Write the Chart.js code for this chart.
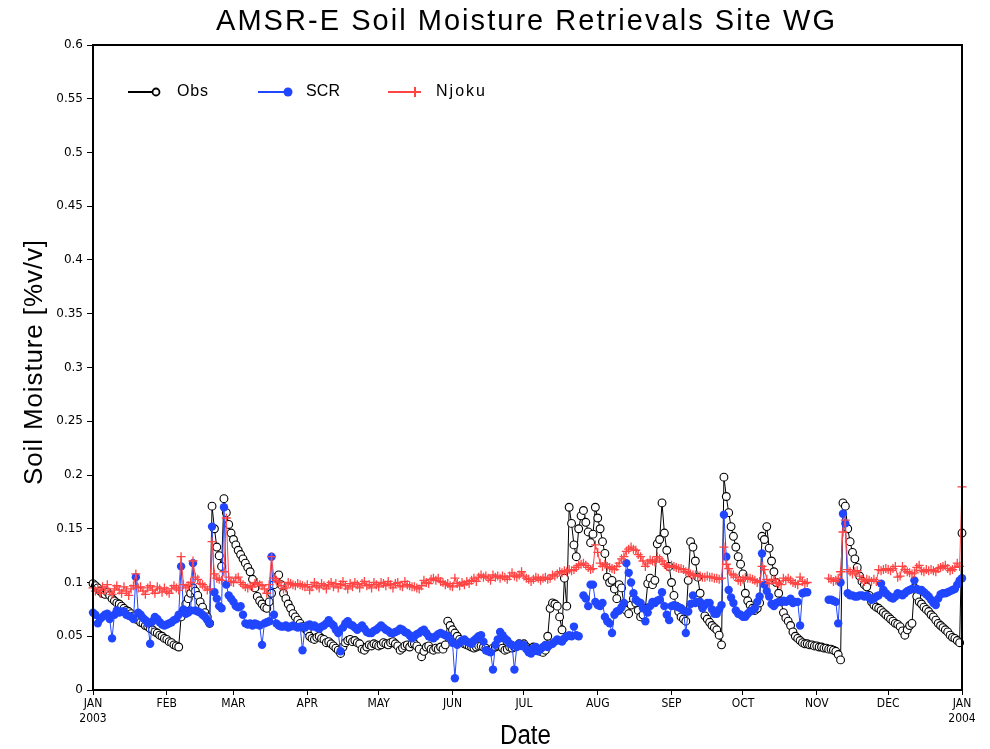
<!DOCTYPE html>
<html>
<head>
<meta charset="utf-8">
<script src="https://cdn.jsdelivr.net/npm/chart.js@4.4.1/dist/chart.umd.min.js"></script>
<style>body{margin:0;background:#fff;}</style>
</head>
<body>
<canvas id="myCanvas" width="990" height="749"></canvas>
<script>
// day of year (0 = 1 Jan 2003) where each month starts
var monthDays = [0, 31, 59, 90, 120, 151, 181, 212, 243, 273, 304, 334, 365];
var monthLabels = [['JAN', '2003'], 'FEB', 'MAR', 'APR', 'MAY', 'JUN', 'JUL', 'AUG', 'SEP', 'OCT', 'NOV', 'DEC', ['JAN', '2004']];
var yTicks = [0, 0.05, 0.1, 0.15, 0.2, 0.25, 0.3, 0.35, 0.4, 0.45, 0.5, 0.55, 0.6];

// daily values, 1 Jan 2003 .. 1 Jan 2004 (366 days)
var obs = [
  // jan
  0.099,0.097,0.095,0.092,0.090,0.089,0.091,0.088,0.085,0.083,
  0.081,0.080,0.078,0.076,0.074,0.073,0.071,0.069,0.066,0.065,
  0.063,0.062,0.060,0.059,0.057,0.056,0.054,0.053,0.051,0.050,0.048,
  // feb
  0.047,0.045,0.044,0.042,0.041,0.040,0.068,0.074,0.080,0.085,
  0.090,0.095,0.092,0.088,0.082,0.077,0.072,0.068,0.062,0.171,
  0.150,0.133,0.125,0.115,0.178,0.165,0.154,0.146,
  // mar
  0.140,0.135,0.130,0.126,0.122,0.118,0.114,0.110,0.103,0.095,
  0.087,0.083,0.080,0.077,0.076,0.082,0.090,0.098,0.105,0.107,
  0.098,0.090,0.085,0.080,0.076,0.071,0.068,0.065,0.062,0.059,0.057,
  // apr
  0.055,0.050,0.048,0.047,0.049,0.050,0.048,0.047,0.044,0.045,
  0.043,0.041,0.039,0.037,0.034,0.040,0.044,0.046,0.047,0.045,
  0.046,0.044,0.043,0.038,0.037,0.040,0.042,0.041,0.043,0.042,
  // may
  0.041,0.042,0.044,0.043,0.042,0.044,0.045,0.043,0.041,0.037,
  0.039,0.041,0.042,0.040,0.043,0.043,0.041,0.038,0.031,0.036,
  0.040,0.041,0.038,0.037,0.039,0.038,0.040,0.038,0.042,0.064,0.060,
  // jun
  0.056,0.053,0.050,0.047,0.045,0.043,0.042,0.041,0.040,0.039,
  0.040,0.041,0.041,0.040,0.039,0.037,0.036,0.039,0.040,0.041,
  0.042,0.039,0.037,0.038,0.040,0.039,0.040,0.041,0.043,0.042,
  // jul
  0.043,0.040,0.038,0.036,0.040,0.037,0.038,0.036,0.035,0.037,
  0.050,0.076,0.081,0.080,0.078,0.068,0.056,0.104,0.078,0.170,
  0.155,0.135,0.124,0.150,0.162,0.167,0.156,0.147,0.137,0.145,0.170,
  // aug
  0.160,0.150,0.138,0.127,0.105,0.100,0.102,0.094,0.085,0.098,
  0.095,0.080,0.074,0.071,0.079,0.085,0.081,0.074,0.068,0.070,
  0.076,0.099,0.104,0.098,0.102,0.136,0.140,0.174,0.146,0.130,0.115,
  // sep
  0.100,0.088,0.078,0.073,0.068,0.066,0.064,0.102,0.138,0.133,
  0.120,0.105,0.090,0.078,0.069,0.066,0.063,0.060,0.058,0.056,
  0.051,0.042,0.198,0.180,0.165,0.152,0.143,0.133,0.124,0.117,
  // oct
  0.108,0.090,0.083,0.079,0.076,0.074,0.076,0.081,0.143,0.140,
  0.152,0.132,0.120,0.110,0.100,0.090,0.082,0.072,0.067,0.064,
  0.060,0.054,0.050,0.048,0.046,0.044,0.043,0.043,0.042,0.042,0.041,
  // nov
  0.041,0.040,0.040,0.039,0.039,0.038,0.038,0.037,0.036,0.033,
  0.028,0.174,0.171,0.150,0.138,0.128,0.122,0.114,0.106,0.101,
  0.098,0.096,0.088,0.082,0.079,0.077,0.076,0.074,0.072,0.070,
  // dec
  0.068,0.066,0.064,0.062,0.061,0.059,0.055,0.051,0.056,0.060,
  0.062,0.095,0.087,0.082,0.080,0.077,0.075,0.073,0.070,0.068,
  0.065,0.062,0.060,0.058,0.056,0.054,0.051,0.049,0.048,0.046,0.044,
  // 1 jan 2004
  0.146
];

var scr = [
  // jan
  0.072,0.070,0.062,0.066,0.068,0.070,0.071,0.066,0.048,0.070,
  0.074,0.072,0.073,0.073,0.070,0.069,0.068,0.066,0.105,0.072,
  0.070,0.067,0.065,0.062,0.043,0.064,0.068,0.066,0.063,0.061,0.060,
  // feb
  0.061,0.062,0.063,0.065,0.066,0.070,0.115,0.075,0.071,0.072,
  0.074,0.118,0.074,0.073,0.072,0.070,0.068,0.065,0.062,0.152,
  0.091,0.085,0.078,0.076,0.170,0.098,0.088,0.085,
  // mar
  0.082,0.078,0.077,0.078,0.070,0.062,0.061,0.062,0.060,0.062,
  0.061,0.060,0.042,0.062,0.063,0.064,0.124,0.070,0.062,0.060,
  0.059,0.059,0.060,0.058,0.059,0.060,0.059,0.058,0.059,0.037,0.058,
  // apr
  0.060,0.061,0.059,0.060,0.058,0.057,0.059,0.060,0.062,0.065,
  0.062,0.060,0.056,0.053,0.036,0.058,0.062,0.064,0.061,0.060,
  0.058,0.056,0.058,0.060,0.057,0.054,0.053,0.053,0.055,0.056,
  // may
  0.058,0.060,0.058,0.056,0.055,0.053,0.053,0.054,0.055,0.057,
  0.056,0.054,0.053,0.051,0.048,0.050,0.052,0.053,0.055,0.056,
  0.053,0.050,0.049,0.048,0.050,0.052,0.053,0.052,0.051,0.050,0.048,
  // jun
  0.044,0.011,0.042,0.044,0.046,0.047,0.045,0.044,0.043,0.046,
  0.048,0.050,0.051,0.045,0.037,0.036,0.035,0.019,0.042,0.047,
  0.054,0.051,0.048,0.046,0.043,0.042,0.019,0.040,0.043,0.041,
  // jul
  0.042,0.038,0.035,0.034,0.039,0.040,0.036,0.038,0.040,0.042,
  0.040,0.042,0.043,0.045,0.047,0.046,0.045,0.048,0.050,0.051,
  0.050,0.059,0.051,0.050,null,0.088,0.085,0.078,0.098,0.098,0.082,
  // aug
  0.079,0.078,0.081,0.068,0.064,0.062,0.053,0.070,0.073,0.074,
  0.077,0.081,0.118,0.109,0.100,0.090,0.084,0.082,0.081,0.076,
  0.064,0.072,0.078,0.082,0.081,0.083,0.084,0.091,0.078,0.070,0.065,
  // sep
  0.078,0.079,0.078,0.077,0.076,0.074,0.053,0.073,0.080,0.088,
  0.081,0.082,0.082,0.076,0.079,0.081,0.081,0.075,0.071,0.071,
  0.075,0.079,0.163,0.124,0.093,0.086,0.081,0.074,0.071,0.070,
  // oct
  0.068,0.068,0.071,0.073,0.074,0.076,0.082,0.087,0.127,0.098,
  0.092,0.087,0.080,0.078,0.081,0.082,0.082,0.083,0.082,0.083,
  0.085,0.081,0.082,0.082,0.060,0.090,0.091,0.091,null,null,null,
  // nov
  null,null,null,null,null,0.084,0.084,0.083,0.082,0.062,
  0.100,0.164,0.155,0.090,0.088,0.088,0.087,0.087,0.088,0.088,
  0.087,0.088,0.086,0.084,0.085,0.087,0.088,0.099,0.093,0.090,
  // dec
  0.088,0.086,0.085,0.087,0.090,0.089,0.088,0.090,0.092,0.093,
  0.094,0.102,0.094,0.093,0.093,0.091,0.089,0.087,0.084,0.081,
  0.079,0.085,0.089,0.090,0.090,0.091,0.092,0.093,0.094,0.098,0.102,
  // 1 jan 2004
  0.104
];

var njoku = [
  // jan
  0.095,0.092,0.094,0.090,0.096,0.093,0.098,0.091,0.089,0.094,
  0.097,0.093,0.090,0.096,0.092,0.088,0.094,0.097,0.108,0.095,
  0.096,0.092,0.089,0.095,0.097,0.093,0.090,0.096,0.094,0.091,0.095,
  // feb
  0.092,0.090,0.094,0.097,0.095,0.093,0.124,0.098,0.095,0.097,
  0.100,0.120,0.105,0.103,0.099,0.098,0.096,0.093,0.094,0.138,
  0.108,0.104,0.103,0.102,0.110,0.160,0.105,0.101,
  // mar
  0.100,0.104,0.105,0.100,0.098,0.096,0.095,0.097,0.096,0.099,
  0.100,0.098,0.097,0.094,0.090,0.098,0.124,0.104,0.102,0.100,
  0.097,0.094,0.095,0.100,0.099,0.098,0.097,0.099,0.098,0.097,0.096,
  // apr
  0.098,0.093,0.096,0.100,0.097,0.095,0.099,0.097,0.094,0.098,
  0.100,0.096,0.099,0.095,0.098,0.101,0.097,0.094,0.099,0.096,
  0.100,0.098,0.095,0.099,0.101,0.097,0.098,0.095,0.100,0.098,
  // may
  0.096,0.100,0.099,0.097,0.101,0.098,0.095,0.099,0.100,0.097,
  0.096,0.101,0.098,0.097,0.096,0.096,0.095,0.094,0.097,0.102,
  0.100,0.099,0.103,0.104,0.102,0.104,0.101,0.100,0.098,0.099,0.097,
  // jun
  0.096,0.104,0.099,0.097,0.100,0.098,0.101,0.099,0.102,0.104,
  0.101,0.105,0.107,0.105,0.106,0.104,0.102,0.107,0.105,0.106,
  0.104,0.106,0.105,0.103,0.106,0.109,0.106,0.105,0.107,0.110,
  // jul
  0.106,0.104,0.103,0.101,0.103,0.105,0.104,0.102,0.104,0.105,
  0.103,0.104,0.107,0.106,0.108,0.110,0.109,0.111,0.110,0.112,
  0.111,0.112,0.114,0.116,0.117,0.118,0.116,0.114,0.112,0.113,0.135,
  // aug
  0.128,0.118,0.115,0.117,0.115,0.114,0.113,0.112,0.115,0.118,
  0.122,0.124,0.129,0.131,0.133,0.131,0.130,0.126,0.124,0.120,
  0.115,0.118,0.121,0.120,0.119,0.124,0.122,0.120,0.117,0.115,0.114,
  // sep
  0.116,0.115,0.114,0.113,0.113,0.112,0.110,0.109,0.108,0.107,
  0.107,0.106,0.106,0.105,0.105,0.106,0.105,0.105,0.104,0.104,
  0.103,0.104,0.133,0.117,0.113,0.108,0.107,0.105,0.102,0.101,
  // oct
  0.103,0.105,0.104,0.104,0.103,0.102,0.100,0.101,0.115,0.112,
  0.103,0.099,0.102,0.103,0.100,0.099,0.098,0.104,0.102,0.104,
  0.102,0.100,0.099,0.098,0.105,0.101,0.099,0.100,null,null,null,
  // nov
  null,null,null,null,null,0.104,0.103,0.101,0.102,0.104,
  0.110,0.147,0.158,0.112,0.110,0.108,0.110,0.111,0.106,0.103,
  0.101,0.103,0.102,0.101,0.103,0.101,0.112,0.111,0.112,0.113,
  // dec
  0.112,0.111,0.113,0.115,0.105,0.106,0.115,0.112,0.110,0.109,
  0.108,0.109,0.114,0.116,0.111,0.110,0.112,0.111,0.112,0.111,
  0.110,0.113,0.114,0.115,0.116,0.113,0.111,0.112,0.114,0.118,0.115,
  // 1 jan 2004
  0.189
];

if (obs.length != 366 || scr.length != 366 || njoku.length != 366) {
    throw new Error('bad lengths ' + obs.length + ' ' + scr.length + ' ' + njoku.length);
}

function toPoints(arr){
    return arr.map(function(v, i){ return {x: i, y: v}; });
}

// draw text squeezed or spread to a given width
function fitText(ctx, text, x, y, w){
    ctx.letterSpacing = '0px';
    var m = ctx.measureText(text).width;
    if (m > w) {
        ctx.fillText(text, x, y, w);
    } else {
        ctx.letterSpacing = ((w - m) / (text.length - 1)) + 'px';
        ctx.fillText(text, x, y);
        ctx.letterSpacing = '0px';
    }
}

var BLUE = '#2146ff';
var RED = '#ff4444';
var TXT = '"Liberation Sans", Arial, sans-serif';

var decorations = {
    id: 'decorations',
    afterDraw: function(chart){
        var ctx = chart.ctx;
        var a = chart.chartArea;
        ctx.save();
        // frame
        ctx.strokeStyle = '#000';
        ctx.lineWidth = 2;
        ctx.strokeRect(a.left, a.top, a.right - a.left, a.bottom - a.top);

        ctx.fillStyle = '#000';
        ctx.textAlign = 'left';
        ctx.textBaseline = 'alphabetic';

        // title
        ctx.font = '29px ' + TXT;
        fitText(ctx, 'AMSR-E Soil Moisture Retrievals Site WG', 216, 30, 619);

        // x title
        ctx.font = '27px ' + TXT;
        fitText(ctx, 'Date', 500, 744, 51);

        // y title
        ctx.save();
        ctx.translate(42, 485);
        ctx.rotate(-Math.PI / 2);
        ctx.font = '26px ' + TXT;
        fitText(ctx, 'Soil Moisture [%v/v]', 0, 0, 245);
        ctx.restore();

        // legend
        var ly = 92;
        ctx.lineWidth = 2;
        ctx.font = '16px ' + TXT;
        ctx.textBaseline = 'middle';

        ctx.strokeStyle = '#000';
        ctx.beginPath(); ctx.moveTo(128, ly); ctx.lineTo(153, ly); ctx.stroke();
        ctx.fillStyle = '#fff';
        ctx.lineWidth = 1.8;
        ctx.beginPath(); ctx.arc(156, ly, 3.5, 0, Math.PI * 2); ctx.fill(); ctx.stroke();
        ctx.fillStyle = '#000';
        fitText(ctx, 'Obs', 177, ly, 31);

        ctx.lineWidth = 2;
        ctx.strokeStyle = BLUE;
        ctx.beginPath(); ctx.moveTo(258, ly); ctx.lineTo(286, ly); ctx.stroke();
        ctx.fillStyle = BLUE;
        ctx.beginPath(); ctx.arc(288, ly, 4.5, 0, Math.PI * 2); ctx.fill();
        ctx.fillStyle = '#000';
        fitText(ctx, 'SCR', 306, ly, 34);

        ctx.strokeStyle = RED;
        ctx.beginPath(); ctx.moveTo(388, ly); ctx.lineTo(421, ly); ctx.stroke();
        ctx.beginPath(); ctx.moveTo(415, ly - 5); ctx.lineTo(415, ly + 5); ctx.stroke();
        ctx.fillStyle = '#000';
        fitText(ctx, 'Njoku', 436, ly, 49);

        ctx.restore();
    }
};

var ctx = document.getElementById('myCanvas').getContext('2d');
var myChart = new Chart(ctx, {
    type: 'line',
    data: {
        datasets: [{
            label: 'Njoku',
            data: toPoints(njoku),
            borderColor: RED,
            borderWidth: 1,
            pointStyle: 'cross',
            pointRadius: 4.5,
            pointBorderColor: RED,
            pointBorderWidth: 1.3,
            order: 1
        }, {
            label: 'SCR',
            data: toPoints(scr),
            borderColor: BLUE,
            borderWidth: 1,
            pointStyle: 'circle',
            pointRadius: 4.2,
            pointBackgroundColor: BLUE,
            pointBorderColor: BLUE,
            pointBorderWidth: 0,
            order: 2
        }, {
            label: 'Obs',
            data: toPoints(obs),
            borderColor: '#000',
            borderWidth: 1,
            pointStyle: 'circle',
            pointRadius: 3.9,
            pointBackgroundColor: '#fff',
            pointBorderColor: '#000',
            pointBorderWidth: 1.1,
            order: 3
        }]
    },
    options: {
        responsive: false,
        animation: false,
        spanGaps: false,
        clip: 6,
        layout: {padding: {top: 45, right: 28, left: 0, bottom: 0}},
        plugins: {
            legend: {display: false},
            tooltip: {enabled: false}
        },
        scales: {
            x: {
                type: 'linear',
                min: 0,
                max: 365,
                afterFit: function(s){ s.height = 59; },
                afterBuildTicks: function(s){
                    s.ticks = monthDays.map(function(d){ return {value: d}; });
                },
                border: {display: false},
                grid: {drawOnChartArea: false, drawTicks: true, tickLength: 5, color: '#000'},
                ticks: {
                    autoSkip: false,
                    maxRotation: 0,
                    padding: 2,
                    color: '#000',
                    font: {family: '"Liberation Sans Narrow", "DejaVu Sans Condensed", sans-serif', size: 12, lineHeight: 1.2},
                    callback: function(v){
                        var i = monthDays.indexOf(v);
                        return i >= 0 ? monthLabels[i] : '';
                    }
                }
            },
            y: {
                min: 0,
                max: 0.6,
                afterFit: function(s){ s.width = 93; },
                afterBuildTicks: function(s){
                    s.ticks = yTicks.map(function(v){ return {value: v}; });
                },
                border: {display: false},
                grid: {drawOnChartArea: false, drawTicks: true, tickLength: 6, color: '#000'},
                ticks: {
                    padding: 4,
                    color: '#000',
                    font: {family: '"DejaVu Sans"', size: 12},
                    callback: function(v){ return String(Number(v.toFixed(2))); }
                }
            }
        }
    },
    plugins: [decorations]
});
</script>
</body>
</html>
